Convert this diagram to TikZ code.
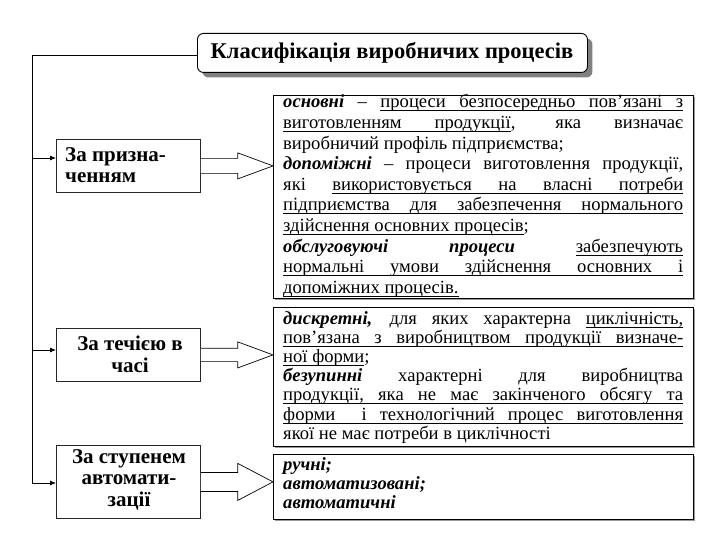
\documentclass[tikz,border=0pt]{standalone}
\usepackage{fontspec}
\setmainfont{Liberation Serif}
\usetikzlibrary{calc,arrows.meta,shadows}
\newcommand\jl[1]{\hbox to\hsize{#1}}
\newcommand\rl[1]{\hbox to\hsize{#1\hfil}}
\newcommand\cl[1]{\hbox to\hsize{\hfil#1\hfil}}
\newcommand\bi[1]{\textbf{\textit{#1}}}
\newbox\ubox
\newcommand\uw[1]{\setbox\ubox\hbox{#1}\rlap{\vrule height -2.5pt depth 3.2pt width\wd\ubox}\box\ubox}
\def\us{\leaders\vrule height -2.5pt depth 3.2pt\hskip\fontdimen2\font plus\fontdimen3\font minus\fontdimen4\font\relax}
\def\U#1{\Uaux#1 \Uend}
\def\Uaux#1 #2\Uend{\uw{#1}\ifx\relax#2\relax\else\us\Uaux#2\Uend\fi}
\hbadness=10000 \hfuzz=20pt
\begin{document}
\begin{tikzpicture}[x=1pt,y=-1pt,
  titlebox/.style={draw=black, line width=0.9pt, fill=white, rounded corners=6pt,
    drop shadow={shadow xshift=5pt, shadow yshift=-5pt, fill=black!50, opacity=1}},
  lbox/.style={draw=black!85, line width=0.8pt, fill=white, inner sep=0pt},
  rbox/.style={draw=black, line width=0.8pt, fill=white, inner sep=0pt,
    drop shadow={shadow xshift=2pt, shadow yshift=-2pt, fill=black!40, opacity=1}},
  conn/.style={draw=black, line width=0.8pt},
  connarr/.style={conn, -{Latex[length=6pt,width=5pt]}},
  barrow/.style={draw=black, line width=0.7pt, fill=white},
  txt/.style={inner sep=0pt}
]
\useasboundingbox (0,0) rectangle (720,540);
\fill[white] (0,0) rectangle (720,540);

% title
\node[titlebox, minimum width=390pt, minimum height=39pt, anchor=north west] (title) at (197,33) {};
\node[txt, anchor=base, font=\fontsize{22.5}{26}\selectfont\bfseries] (ttext) at (392,59) {Класифікація виробничих процесів};

% left boxes
\node[lbox, minimum width=144pt, minimum height=53pt, anchor=north west] (b1) at (56,139) {};
\node[lbox, minimum width=144pt, minimum height=53pt, anchor=north west] (b2) at (56,328) {};
\node[lbox, minimum width=144pt, minimum height=73pt, anchor=north west] (b3) at (56,445) {};

\node[txt, anchor=base west] (t1) at (65,162) {\vtop{\hsize=134pt\fontsize{21}{20.5}\selectfont\bfseries
  \rl{За призна-}\rl{ченням}}};
\node[txt, anchor=base] (t2) at (130,350) {\vtop{\hsize=140pt\fontsize{21}{22}\selectfont\bfseries
  \cl{За течією в}\cl{часі}}};
\node[txt, anchor=base] (t3) at (129,463) {\vtop{\hsize=140pt\fontsize{21}{21.5}\selectfont\bfseries
  \cl{За ступенем}\cl{автомати-}\cl{зації}}};

% right boxes
\node[rbox, minimum width=420pt, minimum height=203pt, anchor=north west] (A) at (273,95) {};
\node[rbox, minimum width=420pt, minimum height=139pt, anchor=north west] (B) at (273,307) {};
\node[rbox, minimum width=420pt, minimum height=65pt, anchor=north west] (C) at (273,454) {};

\node[txt, anchor=base west] (ta) at (283,108) {\vtop{\hsize=400pt\fontsize{18.6}{20.6}\selectfont
  \jl{\bi{основні} – \U{процеси безпосередньо пов'язані з}}
  \jl{\U{виготовленням продукції}, яка визначає}
  \rl{виробничий профіль підприємства;}
  \jl{\bi{допоміжні} – процеси виготовлення продукції,}
  \jl{які \U{використовується на власні потреби}}
  \jl{\U{підприємства для забезпечення нормального}}
  \rl{\U{здійснення основних процесів};}
  \jl{\bi{обслуговуючі} \bi{процеси} \U{забезпечують}}
  \jl{\U{нормальні умови здійснення основних і}}
  \rl{\U{допоміжних процесів.}}}};

\node[txt, anchor=base west] (tb) at (283,324) {\vtop{\hsize=400pt\fontsize{18.6}{19.2}\selectfont
  \jl{\bi{дискретні,} для яких характерна \U{циклічність,}}
  \jl{\U{пов’язана з виробництвом продукції визначе-}}
  \rl{\U{ної форми};}
  \jl{\bi{безупинні} характерні для виробництва}
  \jl{\U{продукції, яка не має закінченого обсягу та}}
  \jl{\U{форми}\us\us\U{і технологічний процес виготовлення}}
  \rl{якої не має потреби в циклічності}}};

\node[txt, anchor=base west] (tc) at (283,470) {\vtop{\hsize=400pt\fontsize{18.6}{19}\selectfont
  \rl{\bi{ручні;}}
  \rl{\bi{автоматизовані;}}
  \rl{\bi{автоматичні}}}};

% bus connector
\coordinate (j1) at (32,158);
\coordinate (j2) at (32,350);
\coordinate (j3) at (32,483);
\draw[conn] ($(title.west)+(0,2.5)$) -| (j3);
\draw[connarr] (j1) -- (j1 -| b1.west);
\draw[connarr] (j2) -- (j2 -| b2.west);
\draw[connarr] (j3) -- (j3 -| b3.west);

% block arrows
\draw[barrow] ($(b1.east)+(0,-7.5)$) -- ($(b1.east)+(37,-7.5)$) -- ($(b1.east)+(37,-13)$)
  -- (b1.east -| A.west) -- ($(b1.east)+(37,13)$) -- ($(b1.east)+(37,7.5)$) -- ($(b1.east)+(0,7.5)$);
\draw[barrow] ($(b2.east)+(0,-6.7)$) -- ($(b2.east)+(37,-6.7)$) -- ($(b2.east)+(37,-13)$)
  -- (b2.east -| B.west) -- ($(b2.east)+(37,13)$) -- ($(b2.east)+(37,6.7)$) -- ($(b2.east)+(0,6.7)$);
\draw[barrow] ($(b3.east)+(0,-9.5)$) -- ($(b3.east)+(37,-9.5)$) -- ($(b3.east)+(37,-18.5)$)
  -- (b3.east -| C.west) -- ($(b3.east)+(37,18.5)$) -- ($(b3.east)+(37,9.5)$) -- ($(b3.east)+(0,9.5)$);
\end{tikzpicture}
\end{document}
